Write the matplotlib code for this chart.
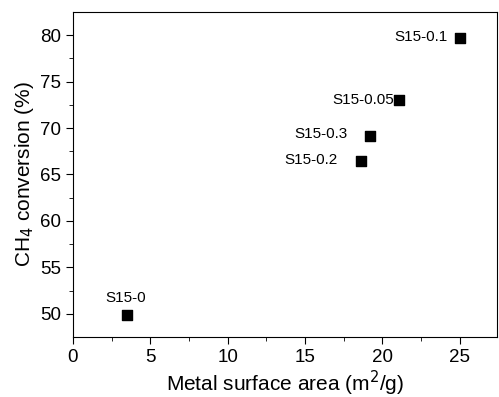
import numpy as np
from matplotlib import pyplot as plt

samples = ["S15-0", "S15-0.05", "S15-0.1", "S15-0.2", "S15-0.3"]
surfaceArea = [3.5, 21.1, 25.0, 18.6, 19.2]
conversion = [49.9, 73.0, 79.7, 66.4, 69.1]

# label offsets in points (dx, dy, ha)
labelOffsets = {
    "S15-0": (-1, 7, "center"),
    "S15-0.05": (-4, 0, "right"),
    "S15-0.1": (-9, 1, "right"),
    "S15-0.2": (-17, 1, "right"),
    "S15-0.3": (-16, 2, "right"),
}

plt.rcParams['font.family'] = ['Liberation Sans', 'DejaVu Sans']

fig = plt.figure(figsize=(4.99, 3.97), dpi=100)
ax = fig.add_axes([0.146, 0.151, 0.850, 0.819])

ax.scatter(surfaceArea, conversion, marker='s', s=42, color='black', zorder=3)

for name, xv, yv in zip(samples, surfaceArea, conversion):
    dx, dy, ha = labelOffsets[name]
    ax.annotate(name, (xv, yv), xytext=(dx, dy), textcoords='offset points',
                ha=ha, va='center' if ha == 'right' else 'bottom', fontsize=11)

ax.set_xlim(0, 27.4)
ax.set_ylim(47.5, 82.5)
ax.set_xticks(np.arange(0, 26, 5))
ax.set_xticks(np.arange(2.5, 27.5, 5), minor=True)
ax.set_yticks(np.arange(50, 81, 5))
ax.set_yticks(np.arange(52.5, 82.5, 5), minor=True)
ax.tick_params(which='major', direction='out', length=5, labelsize=13.5)
ax.tick_params(which='minor', direction='out', length=3)

ax.set_xlabel("Metal surface area (m$^2$/g)", fontsize=15, labelpad=2)
ax.set_ylabel("CH$_4$ conversion (%)", fontsize=15, labelpad=3)

fig.savefig("out.png", dpi=100)
